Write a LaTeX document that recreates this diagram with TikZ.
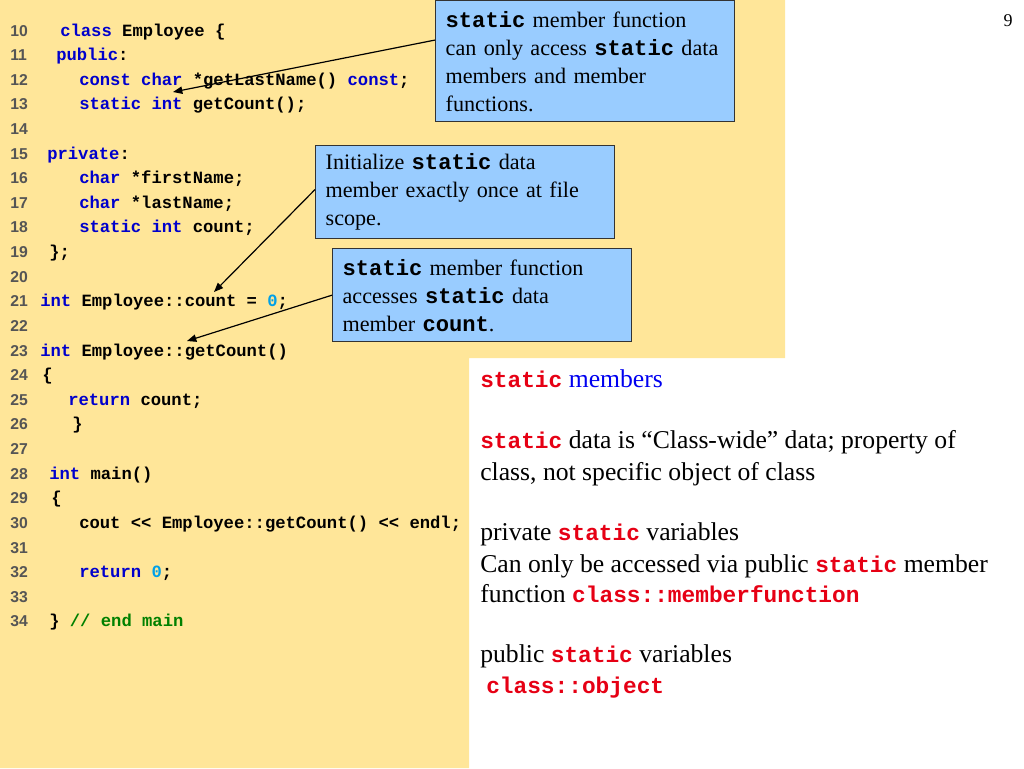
\documentclass[tikz,border=0pt]{standalone}
\usepackage{fontspec}
\setmainfont{Liberation Serif}
\setmonofont{Liberation Mono}
\newfontfamily\numfont{Liberation Sans}
\usetikzlibrary{arrows.meta}

\definecolor{bgyellow}{HTML}{FFE699}
\definecolor{boxblue}{HTML}{99CCFF}
\definecolor{boxline}{HTML}{333333}
\definecolor{kwblue}{HTML}{0000CC}
\definecolor{numcyan}{HTML}{00A0E8}
\definecolor{cmtgreen}{HTML}{008000}
\definecolor{lngray}{HTML}{555555}
\definecolor{redtext}{HTML}{E60014}
\definecolor{titleblue}{HTML}{0000F0}

\newcommand\kw[1]{\textcolor{kwblue}{#1}}
\newcommand\nm[1]{\textcolor{numcyan}{#1}}
\newcommand\cmt[1]{\textcolor{cmtgreen}{#1}}
\newcommand\bmono[1]{{\ttfamily\bfseries #1}}
\newcommand\rmono[1]{{\fontsize{17.1pt}{20pt}\selectfont\ttfamily\bfseries\color{redtext}#1}}

\begin{document}
\begin{tikzpicture}[x=0.75pt, y=-0.75pt,
    lnum/.style={anchor=base west, inner sep=0, text=lngray,
        font=\fontsize{11.8pt}{13pt}\selectfont\numfont\bfseries},
    code/.style={anchor=base west, inner sep=0,
        font=\fontsize{12.9pt}{15pt}\selectfont\ttfamily\bfseries},
    note/.style={anchor=north west, draw=boxline, line width=1pt, fill=boxblue,
        inner xsep=7.5pt, inner ysep=0pt, text width=209.25pt, align=left,
        font=\fontsize{16.6pt}{21pt}\selectfont},
    txt/.style={anchor=base west, inner sep=0,
        font=\fontsize{19.25pt}{22pt}\selectfont},
    pointer/.style={line width=0.9pt, -{Triangle[length=7pt,width=5.5pt]}}]

    \useasboundingbox (0,0) rectangle (1024,768);

    % background
    \fill[bgyellow] (0,0) -- (785,0) -- (785,358) -- (469,358) -- (469,768) -- (0,768) -- cycle;

    % line numbers
    \foreach \n in {10,...,34}
        \node[lnum] (n\n) at (10,{36+(\n-10)*24.62}) {\n};

    % code lines
    \node[code] (c10) at (60,36) {\kw{class} Employee \{};
    \node[code] (c11) at (56,60.62) {\kw{public}:};
    \node[code] (c12) at (79,85.24) {\kw{const} \kw{char} *getLastName() \kw{const};};
    \node[code] (c13) at (79,109.86) {\kw{static} \kw{int} getCount();};
    \node[code] (c15) at (47,159.1) {\kw{private}:};
    \node[code] (c16) at (79,183.72) {\kw{char} *firstName;};
    \node[code] (c17) at (79,208.34) {\kw{char} *lastName;};
    \node[code] (c18) at (79,232.96) {\kw{static} \kw{int} count;};
    \node[code] (c19) at (49,257.58) {\};};
    \node[code] (c21) at (40,306.82) {\kw{int} Employee::count = \nm{0};};
    \node[code] (c23) at (40,356.06) {\kw{int} Employee::getCount()};
    \node[code] (c24) at (42,380.68) {\{};
    \node[code] (c25) at (68,405.3) {\kw{return} count;};
    \node[code] (c26) at (72,429.92) {\}};
    \node[code] (c28) at (49,479.16) {\kw{int} main()};
    \node[code] (c29) at (51,503.78) {\{};
    \node[code] (c30) at (79,528.4) {cout << Employee::getCount() << endl;};
    \node[code] (c32) at (79,577.64) {\kw{return} \nm{0};};
    \node[code] (c34) at (49,626.88) {\} \cmt{// end main}};

    % callouts
    \node[note, minimum height=90.75pt] (b1) at (435,0)
        {\bmono{static} member function\\ can only access \bmono{static} data\\ members and member\\ functions.};
    \node[note, minimum height=69.75pt] (b2) at (315,145)
        {Initialize \bmono{static} data\\ member exactly once at file\\ scope.};
    \node[note, minimum height=69.75pt] (b3) at (332,248)
        {\bmono{static} member function\\ accesses \bmono{static} data\\ member \bmono{count}.};

    \coordinate (t1) at (173,92);
    \coordinate (t2) at (214,292);
    \coordinate (t3) at (187,341);

    \draw[pointer] (b1.172) -- (t1);
    \draw[pointer] (b2.179) -- (t2);
    \draw[pointer] (b3.west) -- (t3);

    % summary text
    \node[txt] (s1) at (480,387) {\rmono{static} \textcolor{titleblue}{members}};
    \node[txt] (s2) at (480,448) {\rmono{static} data is “Class-wide” data; property of};
    \node[txt] (s3) at (480,480) {class, not specific object of class};
    \node[txt] (s4) at (480,540) {private \rmono{static} variables};
    \node[txt] (s5) at (480,572) {Can only be accessed via public \rmono{static} member};
    \node[txt] (s6) at (480,602) {function \rmono{class::memberfunction}};
    \node[txt] (s7) at (480,662) {public \rmono{static} variables};
    \node[txt] (s8) at (486,693) {\rmono{class::object}};

    % page number
    \node[anchor=base east, inner sep=0, font=\fontsize{13.5pt}{15pt}\selectfont] (pg) at (1013,26) {9};

\end{tikzpicture}
\end{document}
